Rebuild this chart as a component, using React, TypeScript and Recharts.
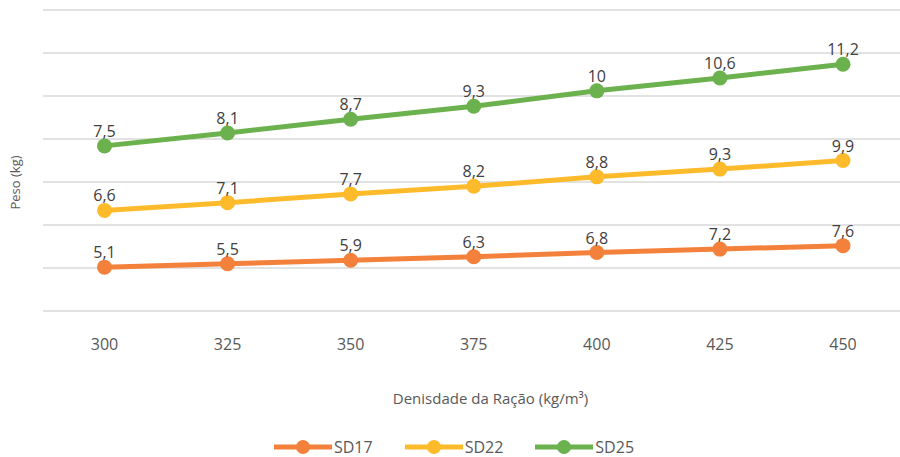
import { CartesianGrid, LabelList, Legend, Line, LineChart, XAxis, YAxis } from "recharts";

const densities = ["300", "325", "350", "375", "400", "425", "450"];
const sd17 = [5.1, 5.5, 5.9, 6.3, 6.8, 7.2, 7.6];
const sd22 = [6.6, 7.1, 7.7, 8.2, 8.8, 9.3, 9.9];
const sd25 = [7.5, 8.1, 8.7, 9.3, 10, 10.6, 11.2];
const yTicks = [0, 5, 10, 15, 20, 25, 30, 35];

const FONT = "'Open Sans', sans-serif";
const COLORS = { sd17: "#F4813B", sd22: "#FDBB2C", sd25: "#6BB14D" };

// stacked lines: plot cumulative totals, label with the own value
const data = densities.map((d, i) => ({
  density: d,
  sd17: sd17[i],
  sd22: sd22[i],
  sd25: sd25[i],
  top17: sd17[i],
  top22: sd17[i] + sd22[i],
  top25: sd17[i] + sd22[i] + sd25[i],
}));

const fmt = (v: unknown) => String(v).replace(".", ",");

function LegendContent({ payload }: any) {
  return (
    <div style={{ display: "flex", justifyContent: "center", gap: 32, fontFamily: FONT, lineHeight: "20px", paddingTop: 4, marginLeft: 8 }}>
      {(payload || []).map((p: any) => (
        <div key={p.value} style={{ display: "flex", alignItems: "center", height: 20 }}>
          <svg width={58} height={16}>
            <line x1={0} y1={8} x2={58} y2={8} stroke={p.color} strokeWidth={5} />
            <circle cx={29} cy={8} r={7} fill={p.color} />
          </svg>
          <span style={{ fontSize: 16, color: "#595959", marginLeft: 2 }}>{p.value}</span>
        </div>
      ))}
    </div>
  );
}

function YTitle({ viewBox }: any) {
  const x = viewBox.x + 15;
  const y = viewBox.y + viewBox.height / 2 + 22;
  return (
    <text x={x} y={y} transform={`rotate(-90 ${x} ${y})`} textAnchor="middle" dominantBaseline="central"
      fontSize={13} fill="#595959" fontFamily={FONT}>
      Peso (kg)
    </text>
  );
}

const dotOf = (c: string) => ({ r: 7.5, fill: c, stroke: c, strokeWidth: 0 });

export default function App() {
  return (
    <div style={{ position: "absolute", left: 0, top: 0, background: "#fff" }}>
      <LineChart width={900} height={457} data={data} margin={{ top: 10, right: 0, left: 0, bottom: 0 }}>
        <CartesianGrid vertical={false} stroke="#d9d9d9" strokeWidth={1.5} />
        <XAxis
          dataKey="density"
          axisLine={false}
          tickLine={false}
          tickMargin={22}
          height={122}
          padding={{ left: 61.5, right: 57 }}
          tick={{ fontSize: 16, fill: "#595959", fontFamily: FONT }}
          label={{ value: "Denisdade da Ração (kg/m³)", position: "insideBottom", offset: 29, dx: 19, fontSize: 15, fill: "#595959", fontFamily: FONT }}
        />
        <YAxis width={43} domain={[0, 35]} ticks={yTicks} tick={() => <g />} axisLine={false} tickLine={false}
          label={{ content: YTitle }} />
        <Legend verticalAlign="bottom" height={24} content={LegendContent} />
        <Line name="SD17" dataKey="top17" stroke={COLORS.sd17} strokeWidth={5} isAnimationActive={false}
          dot={dotOf(COLORS.sd17)} activeDot={false}>
          <LabelList dataKey="sd17" position="top" offset={9} formatter={fmt} fontSize={16} fill="#404040" fontFamily={FONT} />
        </Line>
        <Line name="SD22" dataKey="top22" stroke={COLORS.sd22} strokeWidth={5} isAnimationActive={false}
          dot={dotOf(COLORS.sd22)} activeDot={false}>
          <LabelList dataKey="sd22" position="top" offset={9} formatter={fmt} fontSize={16} fill="#404040" fontFamily={FONT} />
        </Line>
        <Line name="SD25" dataKey="top25" stroke={COLORS.sd25} strokeWidth={5} isAnimationActive={false}
          dot={dotOf(COLORS.sd25)} activeDot={false}>
          <LabelList dataKey="sd25" position="top" offset={9} formatter={fmt} fontSize={16} fill="#404040" fontFamily={FONT} />
        </Line>
      </LineChart>
    </div>
  );
}
